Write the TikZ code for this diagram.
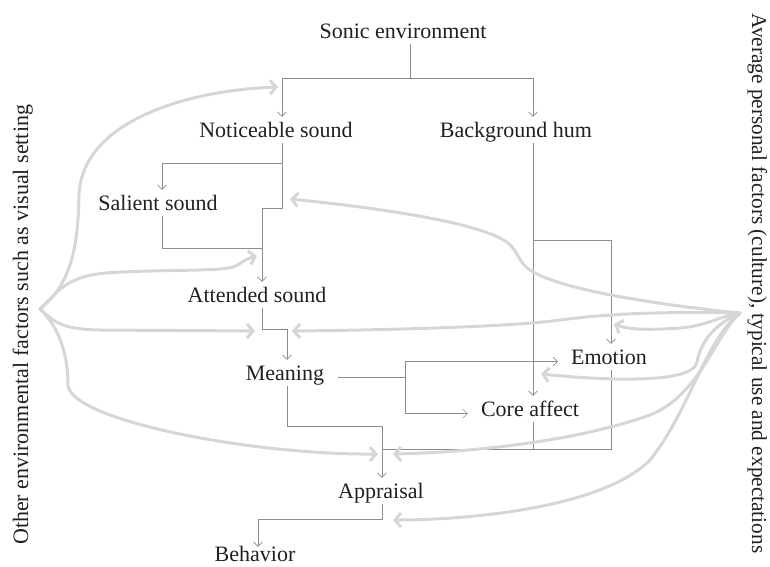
\documentclass[tikz,border=0pt]{standalone}
\usepackage{fontspec}
\setmainfont{Liberation Serif}
\usepackage{tikz}
\usetikzlibrary{arrows.meta,calc}
\definecolor{sdink}{RGB}{35,31,32}
\definecolor{sdline}{RGB}{140,140,140}
\definecolor{sdhalo}{RGB}{214,214,214}
\tikzset{
  lbl/.style={font=\fontsize{22}{26}\selectfont,text=sdink,inner sep=4pt,
    text height=0.7em,text depth=0.22em,anchor=base},
  flow/.style={draw=sdline,line width=0.6pt},
  flowto/.style={flow,-{Straight Barb[length=4.5pt,width=9pt]},shorten >=9pt},
  infl/.style={draw=sdhalo,line width=3pt,line cap=round,
    -{Straight Barb[length=6pt,width=14pt]}}
}

\begin{document}
\begin{tikzpicture}[x=1pt,y=-1pt]
    \useasboundingbox (0,0) rectangle (770,566);
    \node[lbl] (sonic) at (403,38) {Sonic environment};
    \node[lbl] (notice) at (276,137) {Noticeable sound};
    \node[lbl] (bghum) at (516,137) {Background hum};
    \node[lbl] (salient) at (158,210) {Salient sound};
    \node[lbl] (attended) at (257,302) {Attended sound};
    \node[lbl] (meaning) at (285,380) {Meaning};
    \node[lbl] (emotion) at (609,364) {Emotion};
    \node[lbl] (core) at (530,416) {Core affect};
    \node[lbl] (appraisal) at (381,498) {Appraisal};
    \node[lbl,inner sep=1pt] (behavior) at (255,561) {Behavior};
    \node[lbl,rotate=90,anchor=base west] (envfac) at (28,549)
      {Other environmental factors such as visual setting};
    \node[lbl,font=\fontsize{21.3}{25}\selectfont,inner sep=1pt,rotate=-90,
      anchor=base west] (perfac) at (752,12)
      {Average personal factors (culture), typical use and expectations};
    % junctions
    \coordinate (jsonic) at (410,78);
    \coordinate (jattend) at (262,248);
    \coordinate (jmeaning) at (405,372);
    \coordinate (jappraisal) at (382,449);
    \coordinate (envsrc) at (40,309);
    \coordinate (persrc) at (740,313);
    % thin flow lines
    \draw[flow] (sonic.south -| jsonic) -- (jsonic);
    \draw[flowto] (jsonic) -| ([xshift=6pt]notice.north);
    \draw[flowto] (jsonic) -| ([xshift=17pt]bghum.north);
    \draw[flowto] ([xshift=6pt]notice.south) -- ++(0,20) -| ([xshift=4pt]salient.north);
    \draw[flowto] ([xshift=6pt]notice.south) -- ++(0,65) -| ([xshift=5pt]attended.north);
    \draw[flow] ([xshift=4pt]salient.south) |- (jattend);
    \draw[flowto] ([xshift=5pt]attended.south) -- ++(0,21) -| ([xshift=2pt]meaning.north);
    \draw[flow,shorten <=10pt] (meaning.east) -- (meaning.east -| jmeaning);
    \draw[flowto] (meaning.east -| jmeaning) |- (emotion.west);
    \draw[flowto] (meaning.east -| jmeaning) |- (core.west);
    \draw[flowto] ([xshift=2pt]meaning.south) -- ++(0,40) -| ([xshift=1pt]appraisal.north);
    \draw[flowto] ([xshift=17pt]bghum.south) -- ([xshift=3pt]core.north);
    \draw[flowto] ([xshift=17pt]bghum.south) -- ++(0,97) -| ([xshift=2pt]emotion.north);
    \draw[flow] ([xshift=3pt]core.south) |- (jappraisal);
    \draw[flow] ([xshift=2pt]emotion.south) |- (jappraisal);
    \draw[flowto,shorten >=6pt] ([xshift=1pt]appraisal.south) -- ++(0,15) -| ([xshift=3pt]behavior.north);
    % other environmental factors
    \draw[infl] (envsrc) .. controls (70,285) and (78,250) .. (79,195)
      .. controls (82,120) and (190,90) .. (278,87);
    \draw[infl] (envsrc) .. controls (58,292) and (65,277) .. (105,273)
      .. controls (160,269) and (225,272) .. (236,266)
      .. controls (242,262) and (248,258) .. (257,256);
    \draw[infl] (envsrc) .. controls (55,322) and (60,329) .. (100,330) -- (255,331);
    \draw[infl] (envsrc) .. controls (62,330) and (68,360) .. (68,385)
      .. controls (70,420) and (250,455) .. (378,454);
    % personal factors
    \draw[infl] (persrc) .. controls (660,305) and (560,290) .. (530,270)
      .. controls (515,260) and (520,248) .. (500,238)
      .. controls (460,218) and (350,205) .. (290,199);
    \draw[infl] (persrc) .. controls (680,312) and (620,312) .. (560,320)
      .. controls (520,326) and (400,330) .. (292,331);
    \draw[infl] (persrc) .. controls (715,318) and (705,326) .. (680,328)
      .. controls (650,330) and (630,330) .. (614,324);
    \draw[infl] (persrc) .. controls (712,325) and (700,345) .. (697,362)
      .. controls (693,385) and (600,380) .. (541,374);
    \draw[infl] (persrc) .. controls (715,335) and (700,395) .. (650,415)
      .. controls (580,440) and (480,452) .. (393,454);
    \draw[infl] (persrc) .. controls (705,340) and (690,410) .. (650,460)
      .. controls (600,510) and (460,520) .. (393,520);
  \end{tikzpicture}
\end{document}
